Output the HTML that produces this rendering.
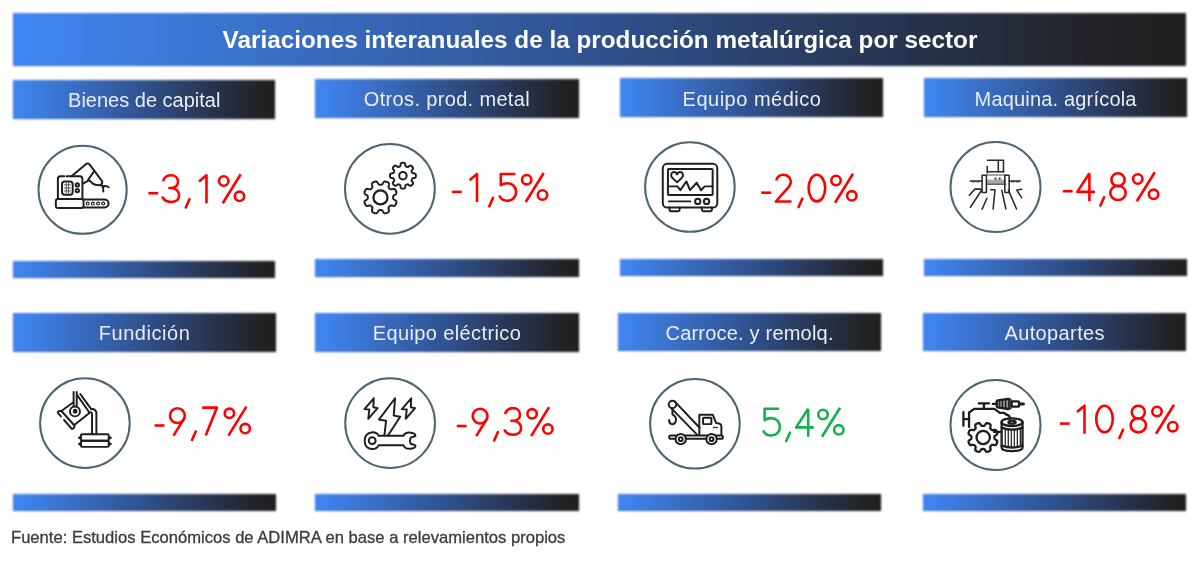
<!DOCTYPE html>
<html><head><meta charset="utf-8">
<style>
html,body{margin:0;padding:0;background:#fff;width:1200px;height:580px;overflow:hidden;position:relative;font-family:"Liberation Sans",sans-serif}
.bar{position:absolute;background:linear-gradient(to right,#4187f3 0%,#30518d 50%,#283551 75%,#232428 92%,#1f1f1f 100%);box-shadow:inset 0 -1px 0 rgba(0,10,60,.22),inset -1px 0 0 rgba(0,0,0,.45),inset 1px 0 0 rgba(0,60,220,.25);filter:blur(1px)}
.t{position:absolute;white-space:nowrap;line-height:1;will-change:transform}
.title{color:#fff;font-weight:bold;font-size:24.3px;left:0;width:1200px;text-align:center;top:27.6px}
.h{color:#e9ecf3;font-size:20px;text-align:center}
.foot{font-size:16.6px;color:#3b3b3b;-webkit-text-stroke:0.3px #3b3b3b;left:10.5px;top:530.3px}
svg{position:absolute}
#w{position:absolute;left:0;top:0;width:1200px;height:580px}
</style></head><body><div id="w">
<div class="bar" style="left:12.7px;top:12.8px;width:1173.1px;height:52.9px"></div>
<div class="t title">Variaciones interanuales de la producción metalúrgica por sector</div>

<!-- row 1 headers -->
<div class="bar" style="left:12.8px;top:80px;width:262.7px;height:38.7px"></div>
<div class="bar" style="left:315px;top:79.1px;width:263.5px;height:38.8px"></div>
<div class="bar" style="left:619.5px;top:78.2px;width:263.5px;height:39.2px"></div>
<div class="bar" style="left:923.5px;top:78.2px;width:263px;height:39.2px"></div>
<div class="t h" style="left:13px;width:262.5px;top:90.1px">Bienes de capital</div>
<div class="t h" style="left:315px;width:263.5px;top:89.3px;letter-spacing:0.34px;text-indent:0.34px">Otros. prod. metal</div>
<div class="t h" style="left:619.5px;width:263.5px;top:89.3px;letter-spacing:0.5px;text-indent:0.5px">Equipo médico</div>
<div class="t h" style="left:923.5px;width:263px;top:89.3px;letter-spacing:0.18px;text-indent:0.18px">Maquina. agrícola</div>

<!-- row 1 bottom bars -->
<div class="bar" style="left:12.8px;top:260.6px;width:262.7px;height:17.6px"></div>
<div class="bar" style="left:315px;top:259.3px;width:263.5px;height:17.3px"></div>
<div class="bar" style="left:619.5px;top:259px;width:263.5px;height:17.3px"></div>
<div class="bar" style="left:923.5px;top:259.3px;width:263.5px;height:17.1px"></div>

<!-- row 2 headers -->
<div class="bar" style="left:13px;top:313px;width:262.5px;height:39px"></div>
<div class="bar" style="left:315px;top:313px;width:263.5px;height:38.5px"></div>
<div class="bar" style="left:618px;top:313px;width:263px;height:38.4px"></div>
<div class="bar" style="left:923px;top:313px;width:263px;height:38.4px"></div>
<div class="t h" style="left:13px;width:262.5px;top:323.3px;letter-spacing:0.55px;text-indent:0.55px">Fundición</div>
<div class="t h" style="left:315px;width:263.5px;top:323.3px;letter-spacing:0.39px;text-indent:0.39px">Equipo eléctrico</div>
<div class="t h" style="left:618px;width:263px;top:323.3px;letter-spacing:0.2px;text-indent:0.2px">Carroce. y remolq.</div>
<div class="t h" style="left:923px;width:263px;top:323.3px;letter-spacing:0.38px;text-indent:0.38px">Autopartes</div>

<!-- row 2 bottom bars -->
<div class="bar" style="left:13px;top:494px;width:262.5px;height:17px"></div>
<div class="bar" style="left:315px;top:494px;width:263.5px;height:17px"></div>
<div class="bar" style="left:618px;top:494px;width:263px;height:17px"></div>
<div class="bar" style="left:923px;top:494px;width:263px;height:17px"></div>



<svg width="1200" height="580" style="position:absolute;left:0;top:0" viewBox="0 0 1200 580">
<circle cx="82.6" cy="189.75" r="44.1" fill="none" stroke="#4f6672" stroke-width="2"/><circle cx="389.9" cy="188.8" r="44.9" fill="none" stroke="#4f6672" stroke-width="2"/><circle cx="689.9" cy="187" r="44.8" fill="none" stroke="#4f6672" stroke-width="2"/><circle cx="995.5" cy="187.05" r="45" fill="none" stroke="#4f6672" stroke-width="2"/><circle cx="84.9" cy="423.1" r="44.8" fill="none" stroke="#4f6672" stroke-width="2"/><circle cx="390.1" cy="423.1" r="44.9" fill="none" stroke="#4f6672" stroke-width="2"/><circle cx="694.9" cy="423.75" r="44.8" fill="none" stroke="#4f6672" stroke-width="2"/><circle cx="995.5" cy="424.95" r="45" fill="none" stroke="#4f6672" stroke-width="2"/>
<g transform="translate(52 160) scale(0.10344)" fill="none" stroke="#1e1e1e" stroke-width="19" stroke-linecap="round" stroke-linejoin="round">
<path d="M118 158 H82 Q57 158 57 185 V377"/>
<path d="M140 157 H270 Q294 157 294 185 V377"/>
<rect x="97" y="207" width="103" height="128" rx="26"/>
<g stroke="#5a5a5a" stroke-width="10"><path d="M118 240 H180 M118 270 H180 M118 300 H180 M138 222 V320 M160 222 V320"/></g>
<circle cx="245" cy="241" r="16"/>
<circle cx="245" cy="295" r="16"/>
<rect x="37" y="377" width="268" height="88" rx="22"/>
<path d="M305 382 H508 A39 39 0 0 1 508 460 H305"/>
<g stroke-width="11"><circle cx="345" cy="421" r="14"/><circle cx="395" cy="421" r="14"/><circle cx="445" cy="421" r="14"/><circle cx="495" cy="421" r="14"/></g>
<path d="M189 156 L330 38 Q352 24 370 52 L484 204 Q492 222 470 244 Q430 246 399 232 L359 195 L300 229"/>
<path d="M350 190 L407 110"/>
<path d="M470 240 Q505 250 494 268 L496 305 M488 262 Q520 238 548 265"/>
</g>
<g transform="translate(360 155) scale(0.10344)" fill="none" stroke="#1e1e1e" stroke-width="19" stroke-linecap="round" stroke-linejoin="round">
<path d="M198.0 287.6 L199.1 287.6 L200.1 287.5 L201.2 287.5 L202.3 287.5 L203.4 287.4 L204.4 287.4 L205.5 287.3 L206.6 287.2 L207.7 287.0 L208.8 286.7 L209.9 286.4 L211.0 285.9 L212.2 285.3 L213.4 284.5 L214.7 283.4 L216.0 282.1 L217.4 280.4 L218.8 278.4 L220.4 276.0 L222.1 273.4 L223.8 270.6 L225.6 267.8 L227.5 265.1 L229.3 262.7 L231.1 260.7 L232.9 259.0 L234.5 257.8 L236.2 256.8 L237.8 256.2 L239.3 255.8 L240.8 255.6 L242.3 255.6 L243.7 255.6 L245.1 255.8 L246.5 256.0 L247.9 256.3 L249.3 256.7 L250.7 257.0 L252.0 257.4 L253.4 257.9 L254.7 258.3 L256.0 258.8 L257.4 259.3 L258.7 259.8 L260.0 260.3 L261.3 260.9 L262.6 261.4 L263.9 262.0 L265.2 262.6 L266.4 263.3 L267.7 263.9 L268.9 264.6 L270.2 265.3 L271.4 266.0 L272.5 266.8 L273.7 267.6 L274.8 268.5 L275.9 269.5 L276.9 270.6 L277.8 271.8 L278.6 273.1 L279.3 274.7 L279.8 276.5 L280.1 278.6 L280.2 281.0 L280.0 283.7 L279.6 286.7 L279.0 289.9 L278.3 293.1 L277.6 296.4 L276.9 299.4 L276.3 302.2 L275.9 304.7 L275.7 306.8 L275.7 308.7 L275.8 310.4 L276.1 311.8 L276.5 313.0 L277.0 314.2 L277.5 315.2 L278.1 316.2 L278.8 317.1 L279.5 317.9 L280.2 318.8 L280.9 319.6 L281.6 320.4 L282.3 321.1 L283.1 321.9 L283.8 322.7 L284.6 323.4 L285.3 324.2 L286.1 324.9 L286.9 325.7 L287.6 326.4 L288.4 327.1 L289.2 327.8 L290.1 328.5 L290.9 329.2 L291.8 329.9 L292.8 330.5 L293.8 331.0 L295.0 331.5 L296.2 331.9 L297.6 332.2 L299.3 332.3 L301.2 332.3 L303.3 332.1 L305.8 331.7 L308.6 331.1 L311.6 330.4 L314.9 329.7 L318.1 329.0 L321.3 328.4 L324.3 328.0 L327.0 327.8 L329.4 327.9 L331.5 328.2 L333.3 328.7 L334.9 329.4 L336.2 330.2 L337.4 331.1 L338.5 332.1 L339.5 333.2 L340.4 334.3 L341.2 335.5 L342.0 336.6 L342.7 337.8 L343.4 339.1 L344.1 340.3 L344.7 341.6 L345.4 342.8 L346.0 344.1 L346.6 345.4 L347.1 346.7 L347.7 348.0 L348.2 349.3 L348.7 350.6 L349.2 352.0 L349.7 353.3 L350.1 354.6 L350.6 356.0 L351.0 357.3 L351.3 358.7 L351.7 360.1 L352.0 361.5 L352.2 362.9 L352.4 364.3 L352.4 365.7 L352.4 367.2 L352.2 368.7 L351.8 370.2 L351.2 371.8 L350.2 373.5 L349.0 375.1 L347.3 376.9 L345.3 378.7 L342.9 380.5 L340.2 382.4 L337.4 384.2 L334.6 385.9 L332.0 387.6 L329.6 389.2 L327.6 390.6 L325.9 392.0 L324.6 393.3 L323.5 394.6 L322.7 395.8 L322.1 397.0 L321.6 398.1 L321.3 399.2 L321.0 400.3 L320.8 401.4 L320.7 402.5 L320.6 403.6 L320.6 404.6 L320.5 405.7 L320.5 406.8 L320.5 407.9 L320.4 408.9 L320.4 410.0 L320.4 411.1 L320.5 412.1 L320.5 413.2 L320.5 414.3 L320.6 415.4 L320.6 416.4 L320.7 417.5 L320.8 418.6 L321.0 419.7 L321.3 420.8 L321.6 421.9 L322.1 423.0 L322.7 424.2 L323.5 425.4 L324.6 426.7 L325.9 428.0 L327.6 429.4 L329.6 430.8 L332.0 432.4 L334.6 434.1 L337.4 435.8 L340.2 437.6 L342.9 439.5 L345.3 441.3 L347.3 443.1 L349.0 444.9 L350.2 446.5 L351.2 448.2 L351.8 449.8 L352.2 451.3 L352.4 452.8 L352.4 454.3 L352.4 455.7 L352.2 457.1 L352.0 458.5 L351.7 459.9 L351.3 461.3 L351.0 462.7 L350.6 464.0 L350.1 465.4 L349.7 466.7 L349.2 468.0 L348.7 469.4 L348.2 470.7 L347.7 472.0 L347.1 473.3 L346.6 474.6 L346.0 475.9 L345.4 477.2 L344.7 478.4 L344.1 479.7 L343.4 480.9 L342.7 482.2 L342.0 483.4 L341.2 484.5 L340.4 485.7 L339.5 486.8 L338.5 487.9 L337.4 488.9 L336.2 489.8 L334.9 490.6 L333.3 491.3 L331.5 491.8 L329.4 492.1 L327.0 492.2 L324.3 492.0 L321.3 491.6 L318.1 491.0 L314.9 490.3 L311.6 489.6 L308.6 488.9 L305.8 488.3 L303.3 487.9 L301.2 487.7 L299.3 487.7 L297.6 487.8 L296.2 488.1 L295.0 488.5 L293.8 489.0 L292.8 489.5 L291.8 490.1 L290.9 490.8 L290.1 491.5 L289.2 492.2 L288.4 492.9 L287.6 493.6 L286.9 494.3 L286.1 495.1 L285.3 495.8 L284.6 496.6 L283.8 497.3 L283.1 498.1 L282.3 498.9 L281.6 499.6 L280.9 500.4 L280.2 501.2 L279.5 502.1 L278.8 502.9 L278.1 503.8 L277.5 504.8 L277.0 505.8 L276.5 507.0 L276.1 508.2 L275.8 509.6 L275.7 511.3 L275.7 513.2 L275.9 515.3 L276.3 517.8 L276.9 520.6 L277.6 523.6 L278.3 526.9 L279.0 530.1 L279.6 533.3 L280.0 536.3 L280.2 539.0 L280.1 541.4 L279.8 543.5 L279.3 545.3 L278.6 546.9 L277.8 548.2 L276.9 549.4 L275.9 550.5 L274.8 551.5 L273.7 552.4 L272.5 553.2 L271.4 554.0 L270.2 554.7 L268.9 555.4 L267.7 556.1 L266.4 556.7 L265.2 557.4 L263.9 558.0 L262.6 558.6 L261.3 559.1 L260.0 559.7 L258.7 560.2 L257.4 560.7 L256.0 561.2 L254.7 561.7 L253.4 562.1 L252.0 562.6 L250.7 563.0 L249.3 563.3 L247.9 563.7 L246.5 564.0 L245.1 564.2 L243.7 564.4 L242.3 564.4 L240.8 564.4 L239.3 564.2 L237.8 563.8 L236.2 563.2 L234.5 562.2 L232.9 561.0 L231.1 559.3 L229.3 557.3 L227.5 554.9 L225.6 552.2 L223.8 549.4 L222.1 546.6 L220.4 544.0 L218.8 541.6 L217.4 539.6 L216.0 537.9 L214.7 536.6 L213.4 535.5 L212.2 534.7 L211.0 534.1 L209.9 533.6 L208.8 533.3 L207.7 533.0 L206.6 532.8 L205.5 532.7 L204.4 532.6 L203.4 532.6 L202.3 532.5 L201.2 532.5 L200.1 532.5 L199.1 532.4 L198.0 532.4 L196.9 532.4 L195.9 532.5 L194.8 532.5 L193.7 532.5 L192.6 532.6 L191.6 532.6 L190.5 532.7 L189.4 532.8 L188.3 533.0 L187.2 533.3 L186.1 533.6 L185.0 534.1 L183.8 534.7 L182.6 535.5 L181.3 536.6 L180.0 537.9 L178.6 539.6 L177.2 541.6 L175.6 544.0 L173.9 546.6 L172.2 549.4 L170.4 552.2 L168.5 554.9 L166.7 557.3 L164.9 559.3 L163.1 561.0 L161.5 562.2 L159.8 563.2 L158.2 563.8 L156.7 564.2 L155.2 564.4 L153.7 564.4 L152.3 564.4 L150.9 564.2 L149.5 564.0 L148.1 563.7 L146.7 563.3 L145.3 563.0 L144.0 562.6 L142.6 562.1 L141.3 561.7 L140.0 561.2 L138.6 560.7 L137.3 560.2 L136.0 559.7 L134.7 559.1 L133.4 558.6 L132.1 558.0 L130.8 557.4 L129.6 556.7 L128.3 556.1 L127.1 555.4 L125.8 554.7 L124.6 554.0 L123.5 553.2 L122.3 552.4 L121.2 551.5 L120.1 550.5 L119.1 549.4 L118.2 548.2 L117.4 546.9 L116.7 545.3 L116.2 543.5 L115.9 541.4 L115.8 539.0 L116.0 536.3 L116.4 533.3 L117.0 530.1 L117.7 526.9 L118.4 523.6 L119.1 520.6 L119.7 517.8 L120.1 515.3 L120.3 513.2 L120.3 511.3 L120.2 509.6 L119.9 508.2 L119.5 507.0 L119.0 505.8 L118.5 504.8 L117.9 503.8 L117.2 502.9 L116.5 502.1 L115.8 501.2 L115.1 500.4 L114.4 499.6 L113.7 498.9 L112.9 498.1 L112.2 497.3 L111.4 496.6 L110.7 495.8 L109.9 495.1 L109.1 494.3 L108.4 493.6 L107.6 492.9 L106.8 492.2 L105.9 491.5 L105.1 490.8 L104.2 490.1 L103.2 489.5 L102.2 489.0 L101.0 488.5 L99.8 488.1 L98.4 487.8 L96.7 487.7 L94.8 487.7 L92.7 487.9 L90.2 488.3 L87.4 488.9 L84.4 489.6 L81.1 490.3 L77.9 491.0 L74.7 491.6 L71.7 492.0 L69.0 492.2 L66.6 492.1 L64.5 491.8 L62.7 491.3 L61.1 490.6 L59.8 489.8 L58.6 488.9 L57.5 487.9 L56.5 486.8 L55.6 485.7 L54.8 484.5 L54.0 483.4 L53.3 482.2 L52.6 480.9 L51.9 479.7 L51.3 478.4 L50.6 477.2 L50.0 475.9 L49.4 474.6 L48.9 473.3 L48.3 472.0 L47.8 470.7 L47.3 469.4 L46.8 468.0 L46.3 466.7 L45.9 465.4 L45.4 464.0 L45.0 462.7 L44.7 461.3 L44.3 459.9 L44.0 458.5 L43.8 457.1 L43.6 455.7 L43.6 454.3 L43.6 452.8 L43.8 451.3 L44.2 449.8 L44.8 448.2 L45.8 446.5 L47.0 444.9 L48.7 443.1 L50.7 441.3 L53.1 439.5 L55.8 437.6 L58.6 435.8 L61.4 434.1 L64.0 432.4 L66.4 430.8 L68.4 429.4 L70.1 428.0 L71.4 426.7 L72.5 425.4 L73.3 424.2 L73.9 423.0 L74.4 421.9 L74.7 420.8 L75.0 419.7 L75.2 418.6 L75.3 417.5 L75.4 416.4 L75.4 415.4 L75.5 414.3 L75.5 413.2 L75.5 412.1 L75.6 411.1 L75.6 410.0 L75.6 408.9 L75.5 407.9 L75.5 406.8 L75.5 405.7 L75.4 404.6 L75.4 403.6 L75.3 402.5 L75.2 401.4 L75.0 400.3 L74.7 399.2 L74.4 398.1 L73.9 397.0 L73.3 395.8 L72.5 394.6 L71.4 393.3 L70.1 392.0 L68.4 390.6 L66.4 389.2 L64.0 387.6 L61.4 385.9 L58.6 384.2 L55.8 382.4 L53.1 380.5 L50.7 378.7 L48.7 376.9 L47.0 375.1 L45.8 373.5 L44.8 371.8 L44.2 370.2 L43.8 368.7 L43.6 367.2 L43.6 365.7 L43.6 364.3 L43.8 362.9 L44.0 361.5 L44.3 360.1 L44.7 358.7 L45.0 357.3 L45.4 356.0 L45.9 354.6 L46.3 353.3 L46.8 352.0 L47.3 350.6 L47.8 349.3 L48.3 348.0 L48.9 346.7 L49.4 345.4 L50.0 344.1 L50.6 342.8 L51.3 341.6 L51.9 340.3 L52.6 339.1 L53.3 337.8 L54.0 336.6 L54.8 335.5 L55.6 334.3 L56.5 333.2 L57.5 332.1 L58.6 331.1 L59.8 330.2 L61.1 329.4 L62.7 328.7 L64.5 328.2 L66.6 327.9 L69.0 327.8 L71.7 328.0 L74.7 328.4 L77.9 329.0 L81.1 329.7 L84.4 330.4 L87.4 331.1 L90.2 331.7 L92.7 332.1 L94.8 332.3 L96.7 332.3 L98.4 332.2 L99.8 331.9 L101.0 331.5 L102.2 331.0 L103.2 330.5 L104.2 329.9 L105.1 329.2 L105.9 328.5 L106.8 327.8 L107.6 327.1 L108.4 326.4 L109.1 325.7 L109.9 324.9 L110.7 324.2 L111.4 323.4 L112.2 322.7 L112.9 321.9 L113.7 321.1 L114.4 320.4 L115.1 319.6 L115.8 318.8 L116.5 317.9 L117.2 317.1 L117.9 316.2 L118.5 315.2 L119.0 314.2 L119.5 313.0 L119.9 311.8 L120.2 310.4 L120.3 308.7 L120.3 306.8 L120.1 304.7 L119.7 302.2 L119.1 299.4 L118.4 296.4 L117.7 293.1 L117.0 289.9 L116.4 286.7 L116.0 283.7 L115.8 281.0 L115.9 278.6 L116.2 276.5 L116.7 274.7 L117.4 273.1 L118.2 271.8 L119.1 270.6 L120.1 269.5 L121.2 268.5 L122.3 267.6 L123.5 266.8 L124.6 266.0 L125.8 265.3 L127.1 264.6 L128.3 263.9 L129.6 263.3 L130.8 262.6 L132.1 262.0 L133.4 261.4 L134.7 260.9 L136.0 260.3 L137.3 259.8 L138.6 259.3 L140.0 258.8 L141.3 258.3 L142.6 257.9 L144.0 257.4 L145.3 257.0 L146.7 256.7 L148.1 256.3 L149.5 256.0 L150.9 255.8 L152.3 255.6 L153.7 255.6 L155.2 255.6 L156.7 255.8 L158.2 256.2 L159.8 256.8 L161.5 257.8 L163.1 259.0 L164.9 260.7 L166.7 262.7 L168.5 265.1 L170.4 267.8 L172.2 270.6 L173.9 273.4 L175.6 276.0 L177.2 278.4 L178.6 280.4 L180.0 282.1 L181.3 283.4 L182.6 284.5 L183.8 285.3 L185.0 285.9 L186.1 286.4 L187.2 286.7 L188.3 287.0 L189.4 287.2 L190.5 287.3 L191.6 287.4 L192.6 287.4 L193.7 287.5 L194.8 287.5 L195.9 287.5 L196.9 287.6 Z"/>
<circle cx="198" cy="410" r="68" stroke-width="22"/>
<path d="M415.0 75.0 L416.1 75.0 L417.2 75.0 L418.3 75.1 L419.4 75.1 L420.4 75.2 L421.5 75.3 L422.6 75.4 L423.7 75.5 L424.8 75.7 L425.9 75.9 L426.9 76.2 L428.0 76.5 L429.0 76.9 L430.1 77.4 L431.1 78.0 L432.0 78.7 L433.0 79.7 L433.9 80.8 L434.7 82.3 L435.4 84.0 L436.1 86.1 L436.7 88.4 L437.2 90.9 L437.6 93.5 L438.0 96.1 L438.4 98.6 L438.8 100.8 L439.2 102.8 L439.7 104.4 L440.2 105.8 L440.8 107.0 L441.4 107.9 L442.0 108.7 L442.7 109.4 L443.4 110.0 L444.1 110.5 L444.8 110.9 L445.5 111.4 L446.3 111.7 L447.0 112.1 L447.7 112.5 L448.5 112.8 L449.2 113.1 L450.0 113.4 L450.7 113.8 L451.5 114.1 L452.2 114.4 L453.0 114.7 L453.8 115.0 L454.5 115.2 L455.3 115.5 L456.1 115.7 L456.9 116.0 L457.7 116.1 L458.6 116.3 L459.5 116.3 L460.4 116.3 L461.4 116.2 L462.5 116.0 L463.8 115.5 L465.1 114.9 L466.6 114.1 L468.3 113.0 L470.2 111.7 L472.2 110.3 L474.3 108.7 L476.4 107.2 L478.6 105.7 L480.6 104.5 L482.5 103.5 L484.3 102.8 L485.9 102.4 L487.4 102.2 L488.7 102.2 L489.9 102.3 L491.1 102.6 L492.1 103.0 L493.2 103.5 L494.1 104.0 L495.1 104.6 L496.0 105.2 L496.9 105.8 L497.7 106.5 L498.6 107.2 L499.4 107.9 L500.2 108.6 L501.0 109.3 L501.8 110.1 L502.6 110.8 L503.4 111.6 L504.2 112.4 L504.9 113.2 L505.7 114.0 L506.4 114.8 L507.1 115.6 L507.8 116.4 L508.5 117.3 L509.2 118.1 L509.8 119.0 L510.4 119.9 L511.0 120.9 L511.5 121.8 L512.0 122.9 L512.4 123.9 L512.7 125.1 L512.8 126.3 L512.8 127.6 L512.6 129.1 L512.2 130.7 L511.5 132.5 L510.5 134.4 L509.3 136.4 L507.8 138.6 L506.3 140.7 L504.7 142.8 L503.3 144.8 L502.0 146.7 L500.9 148.4 L500.1 149.9 L499.5 151.2 L499.0 152.5 L498.8 153.6 L498.7 154.6 L498.7 155.5 L498.7 156.4 L498.9 157.3 L499.0 158.1 L499.3 158.9 L499.5 159.7 L499.8 160.5 L500.0 161.2 L500.3 162.0 L500.6 162.8 L500.9 163.5 L501.2 164.3 L501.6 165.0 L501.9 165.8 L502.2 166.5 L502.5 167.3 L502.9 168.0 L503.3 168.7 L503.6 169.5 L504.1 170.2 L504.5 170.9 L505.0 171.6 L505.6 172.3 L506.3 173.0 L507.1 173.6 L508.0 174.2 L509.2 174.8 L510.6 175.3 L512.2 175.8 L514.2 176.2 L516.4 176.6 L518.9 177.0 L521.5 177.4 L524.1 177.8 L526.6 178.3 L528.9 178.9 L531.0 179.6 L532.7 180.3 L534.2 181.1 L535.3 182.0 L536.3 183.0 L537.0 183.9 L537.6 184.9 L538.1 186.0 L538.5 187.0 L538.8 188.1 L539.1 189.1 L539.3 190.2 L539.5 191.3 L539.6 192.4 L539.7 193.5 L539.8 194.6 L539.9 195.6 L539.9 196.7 L540.0 197.8 L540.0 198.9 L540.0 200.0 L540.0 201.1 L540.0 202.2 L539.9 203.3 L539.9 204.4 L539.8 205.4 L539.7 206.5 L539.6 207.6 L539.5 208.7 L539.3 209.8 L539.1 210.9 L538.8 211.9 L538.5 213.0 L538.1 214.0 L537.6 215.1 L537.0 216.1 L536.3 217.0 L535.3 218.0 L534.2 218.9 L532.7 219.7 L531.0 220.4 L528.9 221.1 L526.6 221.7 L524.1 222.2 L521.5 222.6 L518.9 223.0 L516.4 223.4 L514.2 223.8 L512.2 224.2 L510.6 224.7 L509.2 225.2 L508.0 225.8 L507.1 226.4 L506.3 227.0 L505.6 227.7 L505.0 228.4 L504.5 229.1 L504.1 229.8 L503.6 230.5 L503.3 231.3 L502.9 232.0 L502.5 232.7 L502.2 233.5 L501.9 234.2 L501.6 235.0 L501.2 235.7 L500.9 236.5 L500.6 237.2 L500.3 238.0 L500.0 238.8 L499.8 239.5 L499.5 240.3 L499.3 241.1 L499.0 241.9 L498.9 242.7 L498.7 243.6 L498.7 244.5 L498.7 245.4 L498.8 246.4 L499.0 247.5 L499.5 248.8 L500.1 250.1 L500.9 251.6 L502.0 253.3 L503.3 255.2 L504.7 257.2 L506.3 259.3 L507.8 261.4 L509.3 263.6 L510.5 265.6 L511.5 267.5 L512.2 269.3 L512.6 270.9 L512.8 272.4 L512.8 273.7 L512.7 274.9 L512.4 276.1 L512.0 277.1 L511.5 278.2 L511.0 279.1 L510.4 280.1 L509.8 281.0 L509.2 281.9 L508.5 282.7 L507.8 283.6 L507.1 284.4 L506.4 285.2 L505.7 286.0 L504.9 286.8 L504.2 287.6 L503.4 288.4 L502.6 289.2 L501.8 289.9 L501.0 290.7 L500.2 291.4 L499.4 292.1 L498.6 292.8 L497.7 293.5 L496.9 294.2 L496.0 294.8 L495.1 295.4 L494.1 296.0 L493.2 296.5 L492.1 297.0 L491.1 297.4 L489.9 297.7 L488.7 297.8 L487.4 297.8 L485.9 297.6 L484.3 297.2 L482.5 296.5 L480.6 295.5 L478.6 294.3 L476.4 292.8 L474.3 291.3 L472.2 289.7 L470.2 288.3 L468.3 287.0 L466.6 285.9 L465.1 285.1 L463.8 284.5 L462.5 284.0 L461.4 283.8 L460.4 283.7 L459.5 283.7 L458.6 283.7 L457.7 283.9 L456.9 284.0 L456.1 284.3 L455.3 284.5 L454.5 284.8 L453.8 285.0 L453.0 285.3 L452.2 285.6 L451.5 285.9 L450.7 286.2 L450.0 286.6 L449.2 286.9 L448.5 287.2 L447.7 287.5 L447.0 287.9 L446.3 288.3 L445.5 288.6 L444.8 289.1 L444.1 289.5 L443.4 290.0 L442.7 290.6 L442.0 291.3 L441.4 292.1 L440.8 293.0 L440.2 294.2 L439.7 295.6 L439.2 297.2 L438.8 299.2 L438.4 301.4 L438.0 303.9 L437.6 306.5 L437.2 309.1 L436.7 311.6 L436.1 313.9 L435.4 316.0 L434.7 317.7 L433.9 319.2 L433.0 320.3 L432.0 321.3 L431.1 322.0 L430.1 322.6 L429.0 323.1 L428.0 323.5 L426.9 323.8 L425.9 324.1 L424.8 324.3 L423.7 324.5 L422.6 324.6 L421.5 324.7 L420.4 324.8 L419.4 324.9 L418.3 324.9 L417.2 325.0 L416.1 325.0 L415.0 325.0 L413.9 325.0 L412.8 325.0 L411.7 324.9 L410.6 324.9 L409.6 324.8 L408.5 324.7 L407.4 324.6 L406.3 324.5 L405.2 324.3 L404.1 324.1 L403.1 323.8 L402.0 323.5 L401.0 323.1 L399.9 322.6 L398.9 322.0 L398.0 321.3 L397.0 320.3 L396.1 319.2 L395.3 317.7 L394.6 316.0 L393.9 313.9 L393.3 311.6 L392.8 309.1 L392.4 306.5 L392.0 303.9 L391.6 301.4 L391.2 299.2 L390.8 297.2 L390.3 295.6 L389.8 294.2 L389.2 293.0 L388.6 292.1 L388.0 291.3 L387.3 290.6 L386.6 290.0 L385.9 289.5 L385.2 289.1 L384.5 288.6 L383.7 288.3 L383.0 287.9 L382.3 287.5 L381.5 287.2 L380.8 286.9 L380.0 286.6 L379.3 286.2 L378.5 285.9 L377.8 285.6 L377.0 285.3 L376.2 285.0 L375.5 284.8 L374.7 284.5 L373.9 284.3 L373.1 284.0 L372.3 283.9 L371.4 283.7 L370.5 283.7 L369.6 283.7 L368.6 283.8 L367.5 284.0 L366.2 284.5 L364.9 285.1 L363.4 285.9 L361.7 287.0 L359.8 288.3 L357.8 289.7 L355.7 291.3 L353.6 292.8 L351.4 294.3 L349.4 295.5 L347.5 296.5 L345.7 297.2 L344.1 297.6 L342.6 297.8 L341.3 297.8 L340.1 297.7 L338.9 297.4 L337.9 297.0 L336.8 296.5 L335.9 296.0 L334.9 295.4 L334.0 294.8 L333.1 294.2 L332.3 293.5 L331.4 292.8 L330.6 292.1 L329.8 291.4 L329.0 290.7 L328.2 289.9 L327.4 289.2 L326.6 288.4 L325.8 287.6 L325.1 286.8 L324.3 286.0 L323.6 285.2 L322.9 284.4 L322.2 283.6 L321.5 282.7 L320.8 281.9 L320.2 281.0 L319.6 280.1 L319.0 279.1 L318.5 278.2 L318.0 277.1 L317.6 276.1 L317.3 274.9 L317.2 273.7 L317.2 272.4 L317.4 270.9 L317.8 269.3 L318.5 267.5 L319.5 265.6 L320.7 263.6 L322.2 261.4 L323.7 259.3 L325.3 257.2 L326.7 255.2 L328.0 253.3 L329.1 251.6 L329.9 250.1 L330.5 248.8 L331.0 247.5 L331.2 246.4 L331.3 245.4 L331.3 244.5 L331.3 243.6 L331.1 242.7 L331.0 241.9 L330.7 241.1 L330.5 240.3 L330.2 239.5 L330.0 238.8 L329.7 238.0 L329.4 237.2 L329.1 236.5 L328.8 235.7 L328.4 235.0 L328.1 234.2 L327.8 233.5 L327.5 232.7 L327.1 232.0 L326.7 231.3 L326.4 230.5 L325.9 229.8 L325.5 229.1 L325.0 228.4 L324.4 227.7 L323.7 227.0 L322.9 226.4 L322.0 225.8 L320.8 225.2 L319.4 224.7 L317.8 224.2 L315.8 223.8 L313.6 223.4 L311.1 223.0 L308.5 222.6 L305.9 222.2 L303.4 221.7 L301.1 221.1 L299.0 220.4 L297.3 219.7 L295.8 218.9 L294.7 218.0 L293.7 217.0 L293.0 216.1 L292.4 215.1 L291.9 214.0 L291.5 213.0 L291.2 211.9 L290.9 210.9 L290.7 209.8 L290.5 208.7 L290.4 207.6 L290.3 206.5 L290.2 205.4 L290.1 204.4 L290.1 203.3 L290.0 202.2 L290.0 201.1 L290.0 200.0 L290.0 198.9 L290.0 197.8 L290.1 196.7 L290.1 195.6 L290.2 194.6 L290.3 193.5 L290.4 192.4 L290.5 191.3 L290.7 190.2 L290.9 189.1 L291.2 188.1 L291.5 187.0 L291.9 186.0 L292.4 184.9 L293.0 183.9 L293.7 183.0 L294.7 182.0 L295.8 181.1 L297.3 180.3 L299.0 179.6 L301.1 178.9 L303.4 178.3 L305.9 177.8 L308.5 177.4 L311.1 177.0 L313.6 176.6 L315.8 176.2 L317.8 175.8 L319.4 175.3 L320.8 174.8 L322.0 174.2 L322.9 173.6 L323.7 173.0 L324.4 172.3 L325.0 171.6 L325.5 170.9 L325.9 170.2 L326.4 169.5 L326.7 168.7 L327.1 168.0 L327.5 167.3 L327.8 166.5 L328.1 165.8 L328.4 165.0 L328.8 164.3 L329.1 163.5 L329.4 162.8 L329.7 162.0 L330.0 161.2 L330.2 160.5 L330.5 159.7 L330.7 158.9 L331.0 158.1 L331.1 157.3 L331.3 156.4 L331.3 155.5 L331.3 154.6 L331.2 153.6 L331.0 152.5 L330.5 151.2 L329.9 149.9 L329.1 148.4 L328.0 146.7 L326.7 144.8 L325.3 142.8 L323.7 140.7 L322.2 138.6 L320.7 136.4 L319.5 134.4 L318.5 132.5 L317.8 130.7 L317.4 129.1 L317.2 127.6 L317.2 126.3 L317.3 125.1 L317.6 123.9 L318.0 122.9 L318.5 121.8 L319.0 120.9 L319.6 119.9 L320.2 119.0 L320.8 118.1 L321.5 117.3 L322.2 116.4 L322.9 115.6 L323.6 114.8 L324.3 114.0 L325.1 113.2 L325.8 112.4 L326.6 111.6 L327.4 110.8 L328.2 110.1 L329.0 109.3 L329.8 108.6 L330.6 107.9 L331.4 107.2 L332.3 106.5 L333.1 105.8 L334.0 105.2 L334.9 104.6 L335.9 104.0 L336.8 103.5 L337.9 103.0 L338.9 102.6 L340.1 102.3 L341.3 102.2 L342.6 102.2 L344.1 102.4 L345.7 102.8 L347.5 103.5 L349.4 104.5 L351.4 105.7 L353.6 107.2 L355.7 108.7 L357.8 110.3 L359.8 111.7 L361.7 113.0 L363.4 114.1 L364.9 114.9 L366.2 115.5 L367.5 116.0 L368.6 116.2 L369.6 116.3 L370.5 116.3 L371.4 116.3 L372.3 116.1 L373.1 116.0 L373.9 115.7 L374.7 115.5 L375.5 115.2 L376.2 115.0 L377.0 114.7 L377.8 114.4 L378.5 114.1 L379.3 113.8 L380.0 113.4 L380.8 113.1 L381.5 112.8 L382.3 112.5 L383.0 112.1 L383.7 111.7 L384.5 111.4 L385.2 110.9 L385.9 110.5 L386.6 110.0 L387.3 109.4 L388.0 108.7 L388.6 107.9 L389.2 107.0 L389.8 105.8 L390.3 104.4 L390.8 102.8 L391.2 100.8 L391.6 98.6 L392.0 96.1 L392.4 93.5 L392.8 90.9 L393.3 88.4 L393.9 86.1 L394.6 84.0 L395.3 82.3 L396.1 80.8 L397.0 79.7 L398.0 78.7 L398.9 78.0 L399.9 77.4 L401.0 76.9 L402.0 76.5 L403.1 76.2 L404.1 75.9 L405.2 75.7 L406.3 75.5 L407.4 75.4 L408.5 75.3 L409.6 75.2 L410.6 75.1 L411.7 75.1 L412.8 75.0 L413.9 75.0 Z"/>
<circle cx="415" cy="200" r="36"/>
</g>
<g transform="translate(660 160) scale(0.10344)" fill="none" stroke="#1e1e1e" stroke-width="19" stroke-linecap="round" stroke-linejoin="round">
<rect x="27" y="37" width="527" height="422" rx="42"/>
<rect x="77" y="87" width="432" height="252" rx="8"/>
<path d="M165 215 C120 175 100 160 110 135 C122 108 158 112 165 140 C172 112 208 108 220 135 C230 160 210 175 165 215 Z"/>
<path d="M77 255 H168 L197 292 L255 207 L290 292 L355 220 L397 292 L432 255 H509"/>
<path d="M85 400 H293"/>
<circle cx="365" cy="400" r="26"/>
<circle cx="450" cy="400" r="26"/>
<path d="M92 460 V482 Q92 495 108 495 H175 Q190 495 190 482 V460"/>
<path d="M405 460 V482 Q405 495 420 495 H488 Q502 495 502 482 V460"/>
</g>
<g transform="translate(965 155) scale(0.10344)" fill="none" stroke="#2a2a2a" stroke-width="15" stroke-linecap="round" stroke-linejoin="round">
<path d="M218 51 H372 V164"/>
<path d="M322 59 V164"/>
<path d="M215 111 V174"/>
<path d="M217 162 H375"/>
<path d="M208 194 H392" stroke="#888"/>
<rect x="208" y="238" width="184" height="44" fill="#a8a8a8" stroke="none"/>
<path d="M208 282 H392" stroke="#666"/>
<circle cx="295" cy="229" r="11" fill="#333" stroke="none"/>
<circle cx="335" cy="229" r="11" fill="#333" stroke="none"/>
<rect x="165" y="195" width="42" height="168" rx="6"/>
<rect x="385" y="195" width="42" height="168" rx="6"/>
<path d="M52 252 H165 M427 252 H535"/>
<path d="M70 260 H95 M115 260 H140 M450 260 H475 M495 260 H520" stroke-width="9"/>
<path d="M42 390 L95 330 H150"/>
<path d="M162 338 L52 505"/>
<path d="M212 418 L165 525"/>
<path d="M248 335 H290 L272 522"/>
<path d="M355 340 L395 520"/>
<path d="M420 340 L498 522"/>
<path d="M548 412 L500 340 L548 330"/>
</g>
<g transform="translate(55 390) scale(0.10344)" fill="none" stroke="#1e1e1e" stroke-width="19" stroke-linecap="round" stroke-linejoin="round">
<path d="M180 20 V150 M210 20 V150"/>
<path d="M62 203 L178 118"/>
<path d="M62 203 L188 343 Q194 358 178 372 Q165 380 156 368 L88 290 M57 256 L30 224 Q24 210 38 204 Q52 198 62 203"/>
<path d="M186 338 L330 225"/>
<path d="M215 50 L330 215 M245 40 L350 185"/>
<path d="M350 185 Q385 175 400 215 V425 M328 220 Q355 205 358 235 V425"/>
<circle cx="193" cy="207" r="48"/>
<circle cx="195" cy="205" r="14" fill="#1e1e1e"/>
<rect x="250" y="428" width="270" height="62" rx="14"/>
<rect x="250" y="490" width="270" height="60" rx="14"/>
<path d="M250 455 L232 462 L250 470 M250 515 L232 522 L250 530 M520 455 L540 462 L520 470 M520 515 L540 522 L520 530"/>
</g>
<g transform="translate(360 390) scale(0.10344)" fill="none" stroke="#1e1e1e" stroke-width="19" stroke-linecap="round" stroke-linejoin="round">
<path d="M339 80 L183 286 L252 298 L236 438 M272 438 L389 258 L326 248 L339 80"/>
<path d="M133 80 L43 185 L90 188 L80 279 L170 175 L129 166 Z"/>
<path d="M495 80 L405 185 L452 188 L442 279 L532 175 L491 166 Z"/>
<path d="M180 442 H420 Q440 402 505 415 Q540 425 535 445 L490 460 Q475 490 490 520 L535 535 Q540 560 505 565 Q440 578 420 535 H180 Q160 575 110 570 Q45 560 45 490 Q45 420 110 410 Q160 405 180 442 Z"/>
<circle cx="118" cy="490" r="33"/>
</g>
<g transform="translate(665 390) scale(0.10344)" fill="none" stroke="#1e1e1e" stroke-width="19" stroke-linecap="round" stroke-linejoin="round">
<circle cx="72" cy="140" r="36"/>
<path d="M95 112 L335 365"/>
<path d="M62 178 L310 432"/>
<path d="M72 178 V235 Q115 260 105 300 Q95 335 65 330 Q38 325 40 290"/>
<path d="M332 430 V240 H462 L495 320 Q545 325 545 350 V430"/>
<rect x="368" y="268" width="80" height="62" rx="6"/>
<path d="M470 362 H480 M495 362 H505" stroke-width="14"/>
<rect x="40" y="440" width="520" height="32" rx="16"/>
<circle cx="152" cy="475" r="50" fill="#fff"/>
<circle cx="152" cy="475" r="18"/>
<circle cx="450" cy="475" r="50" fill="#fff"/>
<circle cx="450" cy="475" r="18"/>
</g>
<g transform="translate(960 395) scale(0.12069)" fill="none" stroke="#1e1e1e" stroke-width="19" stroke-linecap="round" stroke-linejoin="round">
<path d="M272 74 H302"/>
<path d="M304 50 Q304 44 312 44 L398 32 Q408 31 408 42 V106 Q408 117 398 116 L312 102 Q304 101 304 94 Z" fill="#9a9a9a"/>
<path d="M328 52 V94 M352 48 V99 M378 44 V104" stroke-width="12"/>
<path d="M416 40 V110" stroke-width="22"/>
<path d="M416 44 V106" stroke="#888" stroke-width="6"/>
<path d="M428 52 H478 Q490 52 490 64 V84 Q490 96 478 96 H428 Z"/>
<path d="M490 74 H526" stroke-width="24"/>
<path d="M155 70 H240 M198 70 V108"/>
<path d="M75 265 V145 L118 115 H285 L330 148 H362 L388 163"/>
<path d="M28 142 V255 M28 200 H75"/>
<path d="M190.0 256.7 L190.8 256.7 L191.7 256.7 L192.5 256.6 L193.3 256.6 L194.2 256.6 L195.0 256.5 L195.8 256.5 L196.7 256.4 L197.5 256.2 L198.4 256.1 L199.3 255.8 L200.1 255.5 L201.1 255.0 L202.0 254.4 L203.0 253.6 L204.0 252.6 L205.0 251.3 L206.2 249.8 L207.4 248.1 L208.7 246.1 L210.0 244.0 L211.4 241.9 L212.8 239.9 L214.2 238.1 L215.6 236.6 L216.9 235.4 L218.2 234.4 L219.5 233.7 L220.7 233.3 L221.9 233.0 L223.0 232.8 L224.2 232.8 L225.3 232.9 L226.4 233.0 L227.5 233.2 L228.5 233.4 L229.6 233.7 L230.6 234.0 L231.7 234.3 L232.7 234.6 L233.8 235.0 L234.8 235.3 L235.8 235.7 L236.8 236.1 L237.8 236.5 L238.8 236.9 L239.8 237.4 L240.8 237.8 L241.8 238.3 L242.8 238.8 L243.8 239.3 L244.7 239.8 L245.7 240.3 L246.6 240.9 L247.5 241.5 L248.4 242.1 L249.3 242.8 L250.1 243.6 L250.9 244.4 L251.6 245.3 L252.2 246.3 L252.8 247.5 L253.2 248.9 L253.4 250.5 L253.5 252.3 L253.4 254.4 L253.1 256.6 L252.7 259.0 L252.2 261.5 L251.7 263.9 L251.2 266.2 L250.8 268.3 L250.5 270.2 L250.4 271.8 L250.4 273.3 L250.5 274.5 L250.8 275.6 L251.1 276.6 L251.5 277.4 L251.9 278.2 L252.4 279.0 L252.9 279.7 L253.4 280.3 L254.0 281.0 L254.5 281.6 L255.1 282.2 L255.7 282.8 L256.2 283.4 L256.8 284.0 L257.4 284.6 L258.0 285.2 L258.6 285.8 L259.2 286.3 L259.8 286.9 L260.4 287.5 L261.0 288.0 L261.7 288.6 L262.3 289.1 L263.0 289.6 L263.8 290.1 L264.6 290.5 L265.4 290.9 L266.4 291.2 L267.5 291.5 L268.7 291.6 L270.2 291.6 L271.8 291.5 L273.7 291.2 L275.8 290.8 L278.1 290.3 L280.5 289.8 L283.0 289.3 L285.4 288.9 L287.6 288.6 L289.7 288.5 L291.5 288.6 L293.1 288.8 L294.5 289.2 L295.7 289.8 L296.7 290.4 L297.6 291.1 L298.4 291.9 L299.2 292.7 L299.9 293.6 L300.5 294.5 L301.1 295.4 L301.7 296.3 L302.2 297.3 L302.7 298.2 L303.2 299.2 L303.7 300.2 L304.2 301.2 L304.6 302.2 L305.1 303.2 L305.5 304.2 L305.9 305.2 L306.3 306.2 L306.7 307.2 L307.0 308.2 L307.4 309.3 L307.7 310.3 L308.0 311.4 L308.3 312.4 L308.6 313.5 L308.8 314.5 L309.0 315.6 L309.1 316.7 L309.2 317.8 L309.2 319.0 L309.0 320.1 L308.7 321.3 L308.3 322.5 L307.6 323.8 L306.6 325.1 L305.4 326.4 L303.9 327.8 L302.1 329.2 L300.1 330.6 L298.0 332.0 L295.9 333.3 L293.9 334.6 L292.2 335.8 L290.7 337.0 L289.4 338.0 L288.4 339.0 L287.6 340.0 L287.0 340.9 L286.5 341.9 L286.2 342.7 L285.9 343.6 L285.8 344.5 L285.6 345.3 L285.5 346.2 L285.5 347.0 L285.4 347.8 L285.4 348.7 L285.4 349.5 L285.3 350.3 L285.3 351.2 L285.3 352.0 L285.3 352.8 L285.3 353.7 L285.4 354.5 L285.4 355.3 L285.4 356.2 L285.5 357.0 L285.5 357.8 L285.6 358.7 L285.8 359.5 L285.9 360.4 L286.2 361.3 L286.5 362.1 L287.0 363.1 L287.6 364.0 L288.4 365.0 L289.4 366.0 L290.7 367.0 L292.2 368.2 L293.9 369.4 L295.9 370.7 L298.0 372.0 L300.1 373.4 L302.1 374.8 L303.9 376.2 L305.4 377.6 L306.6 378.9 L307.6 380.2 L308.3 381.5 L308.7 382.7 L309.0 383.9 L309.2 385.0 L309.2 386.2 L309.1 387.3 L309.0 388.4 L308.8 389.5 L308.6 390.5 L308.3 391.6 L308.0 392.6 L307.7 393.7 L307.4 394.7 L307.0 395.8 L306.7 396.8 L306.3 397.8 L305.9 398.8 L305.5 399.8 L305.1 400.8 L304.6 401.8 L304.2 402.8 L303.7 403.8 L303.2 404.8 L302.7 405.8 L302.2 406.7 L301.7 407.7 L301.1 408.6 L300.5 409.5 L299.9 410.4 L299.2 411.3 L298.4 412.1 L297.6 412.9 L296.7 413.6 L295.7 414.2 L294.5 414.8 L293.1 415.2 L291.5 415.4 L289.7 415.5 L287.6 415.4 L285.4 415.1 L283.0 414.7 L280.5 414.2 L278.1 413.7 L275.8 413.2 L273.7 412.8 L271.8 412.5 L270.2 412.4 L268.7 412.4 L267.5 412.5 L266.4 412.8 L265.4 413.1 L264.6 413.5 L263.8 413.9 L263.0 414.4 L262.3 414.9 L261.7 415.4 L261.0 416.0 L260.4 416.5 L259.8 417.1 L259.2 417.7 L258.6 418.2 L258.0 418.8 L257.4 419.4 L256.8 420.0 L256.2 420.6 L255.7 421.2 L255.1 421.8 L254.5 422.4 L254.0 423.0 L253.4 423.7 L252.9 424.3 L252.4 425.0 L251.9 425.8 L251.5 426.6 L251.1 427.4 L250.8 428.4 L250.5 429.5 L250.4 430.7 L250.4 432.2 L250.5 433.8 L250.8 435.7 L251.2 437.8 L251.7 440.1 L252.2 442.5 L252.7 445.0 L253.1 447.4 L253.4 449.6 L253.5 451.7 L253.4 453.5 L253.2 455.1 L252.8 456.5 L252.2 457.7 L251.6 458.7 L250.9 459.6 L250.1 460.4 L249.3 461.2 L248.4 461.9 L247.5 462.5 L246.6 463.1 L245.7 463.7 L244.7 464.2 L243.8 464.7 L242.8 465.2 L241.8 465.7 L240.8 466.2 L239.8 466.6 L238.8 467.1 L237.8 467.5 L236.8 467.9 L235.8 468.3 L234.8 468.7 L233.8 469.0 L232.7 469.4 L231.7 469.7 L230.6 470.0 L229.6 470.3 L228.5 470.6 L227.5 470.8 L226.4 471.0 L225.3 471.1 L224.2 471.2 L223.0 471.2 L221.9 471.0 L220.7 470.7 L219.5 470.3 L218.2 469.6 L216.9 468.6 L215.6 467.4 L214.2 465.9 L212.8 464.1 L211.4 462.1 L210.0 460.0 L208.7 457.9 L207.4 455.9 L206.2 454.2 L205.0 452.7 L204.0 451.4 L203.0 450.4 L202.0 449.6 L201.1 449.0 L200.1 448.5 L199.3 448.2 L198.4 447.9 L197.5 447.8 L196.7 447.6 L195.8 447.5 L195.0 447.5 L194.2 447.4 L193.3 447.4 L192.5 447.4 L191.7 447.3 L190.8 447.3 L190.0 447.3 L189.2 447.3 L188.3 447.3 L187.5 447.4 L186.7 447.4 L185.8 447.4 L185.0 447.5 L184.2 447.5 L183.3 447.6 L182.5 447.8 L181.6 447.9 L180.7 448.2 L179.9 448.5 L178.9 449.0 L178.0 449.6 L177.0 450.4 L176.0 451.4 L175.0 452.7 L173.8 454.2 L172.6 455.9 L171.3 457.9 L170.0 460.0 L168.6 462.1 L167.2 464.1 L165.8 465.9 L164.4 467.4 L163.1 468.6 L161.8 469.6 L160.5 470.3 L159.3 470.7 L158.1 471.0 L157.0 471.2 L155.8 471.2 L154.7 471.1 L153.6 471.0 L152.5 470.8 L151.5 470.6 L150.4 470.3 L149.4 470.0 L148.3 469.7 L147.3 469.4 L146.2 469.0 L145.2 468.7 L144.2 468.3 L143.2 467.9 L142.2 467.5 L141.2 467.1 L140.2 466.6 L139.2 466.2 L138.2 465.7 L137.2 465.2 L136.2 464.7 L135.3 464.2 L134.3 463.7 L133.4 463.1 L132.5 462.5 L131.6 461.9 L130.7 461.2 L129.9 460.4 L129.1 459.6 L128.4 458.7 L127.8 457.7 L127.2 456.5 L126.8 455.1 L126.6 453.5 L126.5 451.7 L126.6 449.6 L126.9 447.4 L127.3 445.0 L127.8 442.5 L128.3 440.1 L128.8 437.8 L129.2 435.7 L129.5 433.8 L129.6 432.2 L129.6 430.7 L129.5 429.5 L129.2 428.4 L128.9 427.4 L128.5 426.6 L128.1 425.8 L127.6 425.0 L127.1 424.3 L126.6 423.7 L126.0 423.0 L125.5 422.4 L124.9 421.8 L124.3 421.2 L123.8 420.6 L123.2 420.0 L122.6 419.4 L122.0 418.8 L121.4 418.2 L120.8 417.7 L120.2 417.1 L119.6 416.5 L119.0 416.0 L118.3 415.4 L117.7 414.9 L117.0 414.4 L116.2 413.9 L115.4 413.5 L114.6 413.1 L113.6 412.8 L112.5 412.5 L111.3 412.4 L109.8 412.4 L108.2 412.5 L106.3 412.8 L104.2 413.2 L101.9 413.7 L99.5 414.2 L97.0 414.7 L94.6 415.1 L92.4 415.4 L90.3 415.5 L88.5 415.4 L86.9 415.2 L85.5 414.8 L84.3 414.2 L83.3 413.6 L82.4 412.9 L81.6 412.1 L80.8 411.3 L80.1 410.4 L79.5 409.5 L78.9 408.6 L78.3 407.7 L77.8 406.7 L77.3 405.8 L76.8 404.8 L76.3 403.8 L75.8 402.8 L75.4 401.8 L74.9 400.8 L74.5 399.8 L74.1 398.8 L73.7 397.8 L73.3 396.8 L73.0 395.8 L72.6 394.7 L72.3 393.7 L72.0 392.6 L71.7 391.6 L71.4 390.5 L71.2 389.5 L71.0 388.4 L70.9 387.3 L70.8 386.2 L70.8 385.0 L71.0 383.9 L71.3 382.7 L71.7 381.5 L72.4 380.2 L73.4 378.9 L74.6 377.6 L76.1 376.2 L77.9 374.8 L79.9 373.4 L82.0 372.0 L84.1 370.7 L86.1 369.4 L87.8 368.2 L89.3 367.0 L90.6 366.0 L91.6 365.0 L92.4 364.0 L93.0 363.1 L93.5 362.1 L93.8 361.3 L94.1 360.4 L94.2 359.5 L94.4 358.7 L94.5 357.8 L94.5 357.0 L94.6 356.2 L94.6 355.3 L94.6 354.5 L94.7 353.7 L94.7 352.8 L94.7 352.0 L94.7 351.2 L94.7 350.3 L94.6 349.5 L94.6 348.7 L94.6 347.8 L94.5 347.0 L94.5 346.2 L94.4 345.3 L94.2 344.5 L94.1 343.6 L93.8 342.7 L93.5 341.9 L93.0 340.9 L92.4 340.0 L91.6 339.0 L90.6 338.0 L89.3 337.0 L87.8 335.8 L86.1 334.6 L84.1 333.3 L82.0 332.0 L79.9 330.6 L77.9 329.2 L76.1 327.8 L74.6 326.4 L73.4 325.1 L72.4 323.8 L71.7 322.5 L71.3 321.3 L71.0 320.1 L70.8 319.0 L70.8 317.8 L70.9 316.7 L71.0 315.6 L71.2 314.5 L71.4 313.5 L71.7 312.4 L72.0 311.4 L72.3 310.3 L72.6 309.3 L73.0 308.2 L73.3 307.2 L73.7 306.2 L74.1 305.2 L74.5 304.2 L74.9 303.2 L75.4 302.2 L75.8 301.2 L76.3 300.2 L76.8 299.2 L77.3 298.2 L77.8 297.3 L78.3 296.3 L78.9 295.4 L79.5 294.5 L80.1 293.6 L80.8 292.7 L81.6 291.9 L82.4 291.1 L83.3 290.4 L84.3 289.8 L85.5 289.2 L86.9 288.8 L88.5 288.6 L90.3 288.5 L92.4 288.6 L94.6 288.9 L97.0 289.3 L99.5 289.8 L101.9 290.3 L104.2 290.8 L106.3 291.2 L108.2 291.5 L109.8 291.6 L111.3 291.6 L112.5 291.5 L113.6 291.2 L114.6 290.9 L115.4 290.5 L116.2 290.1 L117.0 289.6 L117.7 289.1 L118.3 288.6 L119.0 288.0 L119.6 287.5 L120.2 286.9 L120.8 286.3 L121.4 285.8 L122.0 285.2 L122.6 284.6 L123.2 284.0 L123.8 283.4 L124.3 282.8 L124.9 282.2 L125.5 281.6 L126.0 281.0 L126.6 280.3 L127.1 279.7 L127.6 279.0 L128.1 278.2 L128.5 277.4 L128.9 276.6 L129.2 275.6 L129.5 274.5 L129.6 273.3 L129.6 271.8 L129.5 270.2 L129.2 268.3 L128.8 266.2 L128.3 263.9 L127.8 261.5 L127.3 259.0 L126.9 256.6 L126.6 254.4 L126.5 252.3 L126.6 250.5 L126.8 248.9 L127.2 247.5 L127.8 246.3 L128.4 245.3 L129.1 244.4 L129.9 243.6 L130.7 242.8 L131.6 242.1 L132.5 241.5 L133.4 240.9 L134.3 240.3 L135.3 239.8 L136.2 239.3 L137.2 238.8 L138.2 238.3 L139.2 237.8 L140.2 237.4 L141.2 236.9 L142.2 236.5 L143.2 236.1 L144.2 235.7 L145.2 235.3 L146.2 235.0 L147.3 234.6 L148.3 234.3 L149.4 234.0 L150.4 233.7 L151.5 233.4 L152.5 233.2 L153.6 233.0 L154.7 232.9 L155.8 232.8 L157.0 232.8 L158.1 233.0 L159.3 233.3 L160.5 233.7 L161.8 234.4 L163.1 235.4 L164.4 236.6 L165.8 238.1 L167.2 239.9 L168.6 241.9 L170.0 244.0 L171.3 246.1 L172.6 248.1 L173.8 249.8 L175.0 251.3 L176.0 252.6 L177.0 253.6 L178.0 254.4 L178.9 255.0 L179.9 255.5 L180.7 255.8 L181.6 256.1 L182.5 256.2 L183.3 256.4 L184.2 256.5 L185.0 256.5 L185.8 256.6 L186.7 256.6 L187.5 256.6 L188.3 256.7 L189.2 256.7 Z"/>
<circle cx="192" cy="352" r="55"/>
<path d="M280 305 H340"/>
<path d="M345 225 V435 Q345 465 430 465 Q518 465 518 435 V225"/>
<ellipse cx="431" cy="225" rx="87" ry="32"/>
<ellipse cx="431" cy="225" rx="30" ry="12"/>
<path d="M345 270 Q431 305 518 270 M345 420 Q431 450 518 420"/>
<path d="M375 290 V415 M400 295 V420 M425 296 V422 M450 296 V422 M475 293 V420 M500 288 V415" stroke-width="10"/>
<path d="M388 163 Q420 175 412 195"/>
</g>
<g fill="none" stroke="#ff0000" stroke-width="2.6" stroke-linecap="round" stroke-linejoin="round"><g transform="translate(148.4 174.0)"><path d="M0 19.2 H9.8" stroke-linecap="butt"/></g><g transform="translate(161.4 174.0)"><path d="M2 6.2 C3.4 2.8 6.3 1.3 9.6 1.3 C13.8 1.3 16.6 4 16.6 7.6 C16.6 11.4 13.8 14 9.6 14 H8 M9.6 14 C14.6 14 17.7 17.3 17.7 21.3 C17.7 25.4 14.5 28 9.8 28 C6.2 28 3 26.5 1.3 23.5"/></g><g transform="translate(184.7 174.0)"><path d="M4.8 25.2 L1.1 33.6"/></g><g transform="translate(197.7 174.0)"><path d="M1.3 7.6 L8.8 1.3 V29.3" stroke-linecap="butt"/></g><g transform="translate(217.7 174.0)"><circle cx="6" cy="7" r="4.7"/><circle cx="21.8" cy="22.3" r="4.7"/><path d="M23 0.3 L5 29.3" stroke-linecap="butt"/></g></g>
<g fill="none" stroke="#ff0000" stroke-width="2.6" stroke-linecap="round" stroke-linejoin="round"><g transform="translate(451.9 172.7)"><path d="M0 19.2 H9.8" stroke-linecap="butt"/></g><g transform="translate(468.2 172.7)"><path d="M1.3 7.6 L8.8 1.3 V29.3" stroke-linecap="butt"/></g><g transform="translate(488.2 172.7)"><path d="M4.8 25.2 L1.1 33.6"/></g><g transform="translate(498.5 172.7)"><path d="M15.8 1.3 H2.3 V12.6 C4 11.3 6.3 10.6 8.8 10.6 C14 10.6 17.6 14.3 17.6 19.3 C17.6 24.5 13.8 28 8.8 28 C5.3 28 2.6 26.4 1.3 23.8"/></g><g transform="translate(520.7 172.7)"><circle cx="6" cy="7" r="4.7"/><circle cx="21.8" cy="22.3" r="4.7"/><path d="M23 0.3 L5 29.3" stroke-linecap="butt"/></g></g>
<g fill="none" stroke="#ff0000" stroke-width="2.6" stroke-linecap="round" stroke-linejoin="round"><g transform="translate(761.3 173.5)"><path d="M0 19.2 H9.8" stroke-linecap="butt"/></g><g transform="translate(774.3 173.5)"><path d="M1.8 7 C2.8 3.3 5.6 1.3 9.2 1.3 C13.4 1.3 16.5 4.2 16.5 8.2 C16.5 11 15 13 12.5 15.6 L1.5 28 H17.2" stroke-linecap="butt"/></g><g transform="translate(797.5 173.5)"><path d="M4.8 25.2 L1.1 33.6"/></g><g transform="translate(807.3 173.5)"><ellipse cx="9.6" cy="14.6" rx="8.3" ry="13.3"/></g><g transform="translate(830.0 173.5)"><circle cx="6" cy="7" r="4.7"/><circle cx="21.8" cy="22.3" r="4.7"/><path d="M23 0.3 L5 29.3" stroke-linecap="butt"/></g></g>
<g fill="none" stroke="#ff0000" stroke-width="2.6" stroke-linecap="round" stroke-linejoin="round"><g transform="translate(1062.8 172.0)"><path d="M0 19.2 H9.8" stroke-linecap="butt"/></g><g transform="translate(1076.0 172.0)"><path d="M13.4 1.3 L1.3 19.9 H18.9 M13.4 1.3 V29.3" stroke-linecap="butt"/></g><g transform="translate(1099.3 172.0)"><path d="M4.8 25.2 L1.1 33.6"/></g><g transform="translate(1109.0 172.0)"><ellipse cx="9" cy="7.7" rx="6.6" ry="6.4"/><ellipse cx="9" cy="20.9" rx="7.7" ry="7.1"/></g><g transform="translate(1131.8 172.0)"><circle cx="6" cy="7" r="4.7"/><circle cx="21.8" cy="22.3" r="4.7"/><path d="M23 0.3 L5 29.3" stroke-linecap="butt"/></g></g>
<g fill="none" stroke="#ff0000" stroke-width="2.6" stroke-linecap="round" stroke-linejoin="round"><g transform="translate(154.6 406.3)"><path d="M0 19.2 H9.8" stroke-linecap="butt"/></g><g transform="translate(168.7 406.3)"><circle cx="8.7" cy="9.3" r="7.4"/><path d="M15.9 11.6 L4.8 29.3" stroke-linecap="butt"/></g><g transform="translate(190.9 406.3)"><path d="M4.8 25.2 L1.1 33.6"/></g><g transform="translate(201.8 406.3)"><path d="M0.4 1.3 H15.2 L3.9 29.3" stroke-linecap="butt"/></g><g transform="translate(223.4 406.3)"><circle cx="6" cy="7" r="4.7"/><circle cx="21.8" cy="22.3" r="4.7"/><path d="M23 0.3 L5 29.3" stroke-linecap="butt"/></g></g>
<g fill="none" stroke="#ff0000" stroke-width="2.6" stroke-linecap="round" stroke-linejoin="round"><g transform="translate(456.8 406.8)"><path d="M0 19.2 H9.8" stroke-linecap="butt"/></g><g transform="translate(471.4 406.8)"><circle cx="8.7" cy="9.3" r="7.4"/><path d="M15.9 11.6 L4.8 29.3" stroke-linecap="butt"/></g><g transform="translate(493.1 406.8)"><path d="M4.8 25.2 L1.1 33.6"/></g><g transform="translate(503.4 406.8)"><path d="M2 6.2 C3.4 2.8 6.3 1.3 9.6 1.3 C13.8 1.3 16.6 4 16.6 7.6 C16.6 11.4 13.8 14 9.6 14 H8 M9.6 14 C14.6 14 17.7 17.3 17.7 21.3 C17.7 25.4 14.5 28 9.8 28 C6.2 28 3 26.5 1.3 23.5"/></g><g transform="translate(526.1 406.8)"><circle cx="6" cy="7" r="4.7"/><circle cx="21.8" cy="22.3" r="4.7"/><path d="M23 0.3 L5 29.3" stroke-linecap="butt"/></g></g>
<g fill="none" stroke="#14b04e" stroke-width="2.6" stroke-linecap="round" stroke-linejoin="round"><g transform="translate(762.3 407.5)"><path d="M15.8 1.3 H2.3 V12.6 C4 11.3 6.3 10.6 8.8 10.6 C14 10.6 17.6 14.3 17.6 19.3 C17.6 24.5 13.8 28 8.8 28 C5.3 28 2.6 26.4 1.3 23.8"/></g><g transform="translate(785.1 407.5)"><path d="M4.8 25.2 L1.1 33.6"/></g><g transform="translate(794.8 407.5)"><path d="M13.4 1.3 L1.3 19.9 H18.9 M13.4 1.3 V29.3" stroke-linecap="butt"/></g><g transform="translate(817.0 407.5)"><circle cx="6" cy="7" r="4.7"/><circle cx="21.8" cy="22.3" r="4.7"/><path d="M23 0.3 L5 29.3" stroke-linecap="butt"/></g></g>
<g fill="none" stroke="#ff0000" stroke-width="2.6" stroke-linecap="round" stroke-linejoin="round"><g transform="translate(1059.9 404.4)"><path d="M0 19.2 H9.8" stroke-linecap="butt"/></g><g transform="translate(1075.7 404.4)"><path d="M1.3 7.6 L8.8 1.3 V29.3" stroke-linecap="butt"/></g><g transform="translate(1094.9 404.4)"><ellipse cx="9.6" cy="14.6" rx="8.3" ry="13.3"/></g><g transform="translate(1118.3 404.4)"><path d="M4.8 25.2 L1.1 33.6"/></g><g transform="translate(1129.3 404.4)"><ellipse cx="9" cy="7.7" rx="6.6" ry="6.4"/><ellipse cx="9" cy="20.9" rx="7.7" ry="7.1"/></g><g transform="translate(1151.0 404.4)"><circle cx="6" cy="7" r="4.7"/><circle cx="21.8" cy="22.3" r="4.7"/><path d="M23 0.3 L5 29.3" stroke-linecap="butt"/></g></g>
</svg>
<div class="t foot">Fuente: Estudios Económicos de ADIMRA en base a relevamientos propios</div>
</div></body></html>
